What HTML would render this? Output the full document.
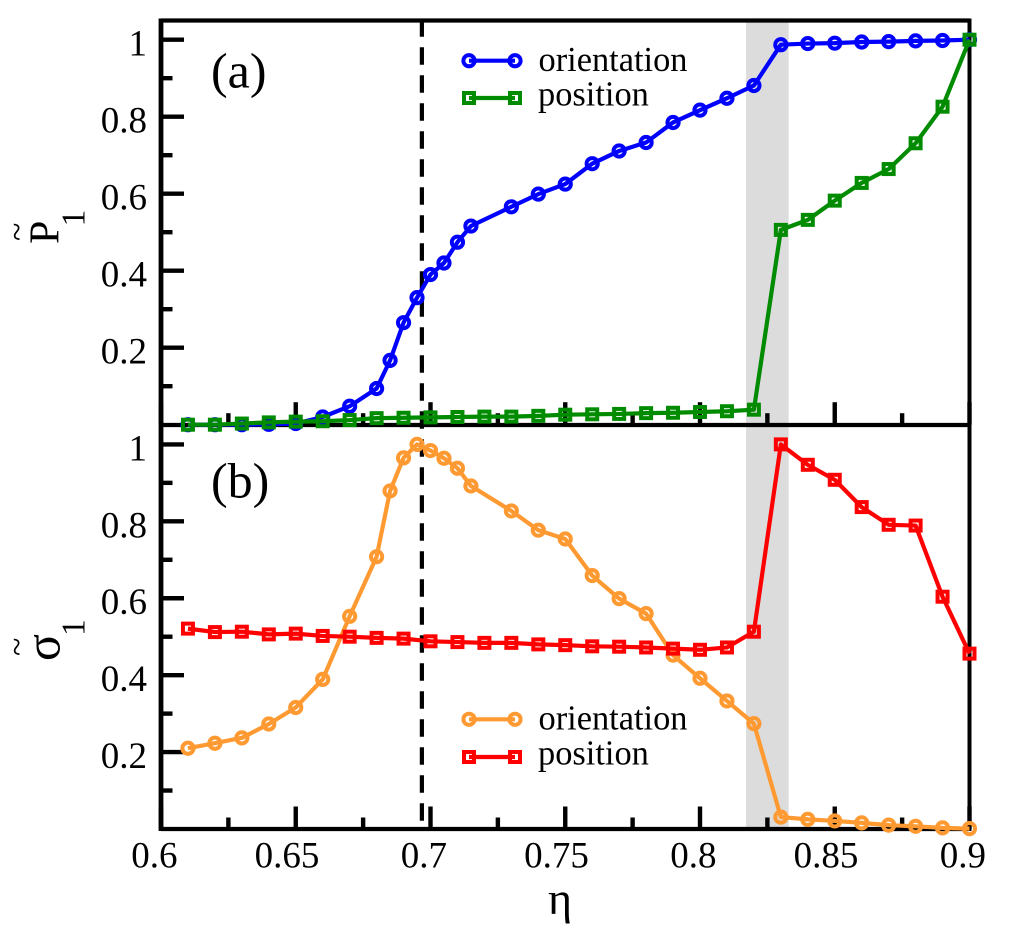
<!DOCTYPE html>
<html lang="en">
<head>
<meta charset="utf-8">
<title>Order parameters versus eta</title>
<style>
html,body{margin:0;padding:0;background:#fff;width:1011px;height:929px;overflow:hidden}
svg{display:block}
text{font-family:"Liberation Serif","DejaVu Serif",serif;fill:#000}
</style>
</head>
<body>
<svg id="chart" xmlns="http://www.w3.org/2000/svg" width="1011" height="929" viewBox="0 0 1011 929">
  <rect x="0" y="0" width="1011" height="929" fill="#fff"/>
  <g id="bands"></g>
  <g id="axes"></g>
  <g id="series"></g>
  <g>
    <line x1="469" y1="60.7" x2="515" y2="60.7" stroke="#0000ff" stroke-width="4.2"/>
    <circle cx="469" cy="60.7" r="5.6" fill="none" stroke="#0000ff" stroke-width="4"/>
    <circle cx="515" cy="60.7" r="5.6" fill="none" stroke="#0000ff" stroke-width="4"/>
    <text x="538.5" y="71" font-size="34.4">orientation</text>
    <line x1="469" y1="98" x2="515" y2="98" stroke="#008b00" stroke-width="4.2"/>
    <rect x="464" y="93" width="10" height="10" fill="none" stroke="#008b00" stroke-width="4"/>
    <rect x="510" y="93" width="10" height="10" fill="none" stroke="#008b00" stroke-width="4"/>
    <text x="538" y="105.3" font-size="34.4">position</text>
  </g>
  <g>
    <line x1="469" y1="719.3" x2="515" y2="719.3" stroke="#ff9a33" stroke-width="4.2"/>
    <circle cx="469" cy="719.3" r="5.6" fill="none" stroke="#ff9a33" stroke-width="4"/>
    <circle cx="515" cy="719.3" r="5.6" fill="none" stroke="#ff9a33" stroke-width="4"/>
    <text x="538.5" y="729.5" font-size="34.4">orientation</text>
    <line x1="469" y1="757" x2="515" y2="757" stroke="#ff0000" stroke-width="4.2"/>
    <rect x="464" y="752" width="10" height="10" fill="none" stroke="#ff0000" stroke-width="4"/>
    <rect x="510" y="752" width="10" height="10" fill="none" stroke="#ff0000" stroke-width="4"/>
    <text x="538" y="764.3" font-size="34.4">position</text>
  </g>
  <text x="211" y="87.5" font-size="50">(a)</text>
  <text x="211" y="497.7" font-size="50">(b)</text>
  <g>
    <text transform="translate(58.3 244) rotate(-90)" font-size="42">P</text>
    <text transform="translate(84.3 226.5) rotate(-90)" font-size="33.5">1</text>
    <text transform="translate(28 241) rotate(-90)" font-size="34">~</text>
  </g>
  <g>
    <text transform="translate(59.5 661) rotate(-90)" font-size="50">σ</text>
    <text transform="translate(84.3 636) rotate(-90)" font-size="33.5">1</text>
    <text transform="translate(28 656) rotate(-90)" font-size="34">~</text>
  </g>
  <text x="560" y="914" font-size="46" text-anchor="middle">η</text>
</svg>
<script>
var xOrientation = [0.61,0.62,0.63,0.64,0.65,0.66,0.67,0.68,0.685,0.69,0.695,0.7,0.705,0.71,0.715,0.73,0.74,0.75,0.76,0.77,0.78,0.79,0.8,0.81,0.82,0.83,0.84,0.85,0.86,0.87,0.88,0.89,0.9];
var xPosition = [0.61,0.62,0.63,0.64,0.65,0.66,0.67,0.68,0.69,0.7,0.71,0.72,0.73,0.74,0.75,0.76,0.77,0.78,0.79,0.8,0.81,0.82,0.83,0.84,0.85,0.86,0.87,0.88,0.89,0.9];
var pOrientation = [0,0,0,0.001,0.003,0.02,0.048,0.094,0.167,0.265,0.33,0.39,0.42,0.474,0.516,0.566,0.599,0.625,0.678,0.711,0.733,0.785,0.817,0.848,0.881,0.987,0.99,0.991,0.994,0.995,0.997,0.998,1];
var pPosition = [0,0,0.003,0.006,0.008,0.009,0.012,0.017,0.018,0.019,0.02,0.021,0.021,0.023,0.026,0.027,0.028,0.03,0.031,0.033,0.035,0.039,0.506,0.532,0.582,0.628,0.664,0.731,0.826,1];
var sigmaOrientation = [0.21,0.223,0.237,0.273,0.316,0.389,0.553,0.708,0.879,0.965,1,0.984,0.964,0.938,0.892,0.827,0.777,0.754,0.659,0.599,0.56,0.452,0.392,0.333,0.274,0.031,0.025,0.021,0.016,0.01,0.007,0.003,0.001];
var sigmaPosition = [0.521,0.512,0.513,0.506,0.508,0.502,0.5,0.497,0.495,0.488,0.486,0.484,0.484,0.48,0.478,0.475,0.474,0.472,0.469,0.466,0.472,0.513,1,0.947,0.908,0.837,0.791,0.789,0.604,0.456];
var xMajorTicks = [0.6,0.65,0.7,0.75,0.8,0.85,0.9];
var xMinorTicks = [0.625,0.675,0.725,0.775,0.825,0.875];
var xTickLabels = ["0.6","0.65","0.7","0.75","0.8","0.85","0.9"];
var yMajorTicks = [0.2,0.4,0.6,0.8,1];
var yMinorTicks = [0.1,0.3,0.5,0.7,0.9];
var yTickLabels = ["0.2","0.4","0.6","0.8","1"];
var transitionEta = 0.6968;
var bandRange = [0.8171,0.8329];

var NS = 'http://www.w3.org/2000/svg';
var X0 = 161, X1 = 969.5, Y_TOP = 20.5, Y_A0 = 424.7, Y_B0 = 829;
function xScale(v){ return X0 + (v - 0.6) / 0.3 * (X1 - X0); }
function yScaleA(v){ return Y_A0 - v * 385; }
function yScaleB(v){ return Y_B0 - v * 384.6; }
function make(tag, attrs, parent){
  var el = document.createElementNS(NS, tag);
  for (var k in attrs) el.setAttribute(k, attrs[k]);
  parent.appendChild(el);
  return el;
}
var bands = document.getElementById('bands');
var axes = document.getElementById('axes');
var seriesLayer = document.getElementById('series');

var band = make('rect', {x:xScale(bandRange[0]), y:Y_TOP, width:xScale(bandRange[1])-xScale(bandRange[0]), height:Y_B0-Y_TOP, fill:'#dcdcdc'}, bands);



function axisLine(x1, y1, x2, y2, w, name){
  var l = make('line', {x1:x1, y1:y1, x2:x2, y2:y2, stroke:'#000', 'stroke-width':w}, axes);
  
  
  return l;
}
var dash = axisLine(xScale(transitionEta), 19.3, xScale(transitionEta), Y_B0, 4.2, 'transition-dashed-line');
dash.setAttribute('stroke-dasharray', '17.5 10.5');

[yScaleA, yScaleB].forEach(function(ys){
  var y0 = ys(0);
  xMajorTicks.forEach(function(t){ axisLine(xScale(t), y0, xScale(t), y0 - 22.5, 4.4, 'x-major-tick'); });
  xMinorTicks.forEach(function(t){ axisLine(xScale(t), y0, xScale(t), y0 - 11.5, 4.4, 'x-minor-tick'); });
  yMajorTicks.forEach(function(t){ axisLine(X0, ys(t), X0 + 23, ys(t), 4.4, 'y-major-tick'); });
  yMinorTicks.forEach(function(t){ axisLine(X0, ys(t), X0 + 11.5, ys(t), 4.4, 'y-minor-tick'); });
  yTickLabels.forEach(function(s, i){
    var t = make('text', {x:147, y:ys(yMajorTicks[i]) + 16, 'font-size':37, 'text-anchor':'end'}, axes);
    t.textContent = s;
    
    
  });
});
xTickLabels.forEach(function(s, i){
  var t = make('text', {x:xScale(xMajorTicks[i]) + (s.length > 3 ? -8.8 : -6.6), y:867.7, 'font-size':37, 'text-anchor':'middle'}, axes);
  t.textContent = s;
  
  
});
axisLine(X0, Y_TOP - 2, X0, Y_B0 + 2, 4.8, 'left-axis');
axisLine(X1, Y_TOP - 2, X1, Y_B0 + 2, 4, 'right-axis');
axisLine(X0, Y_TOP, X1, Y_TOP, 4.2, 'top-axis');
axisLine(X0, 425, X1, 425, 4.2, 'panel-divider-axis');
axisLine(X0, Y_B0, X1, Y_B0, 4.2, 'bottom-axis');

function drawSeries(xs, vals, ys, color, marker, name){
  var g = make('g', {}, seriesLayer);
  
  
  var pts = xs.map(function(x, i){ return xScale(x).toFixed(2) + ',' + ys(vals[i]).toFixed(2); }).join(' ');
  make('polyline', {points:pts, fill:'none', stroke:color, 'stroke-width':4.2, 'stroke-linejoin':'round'}, g);
  xs.forEach(function(x, i){
    var cx = xScale(x), cy = ys(vals[i]), m;
    if (marker === 'circle') {
      m = make('circle', {cx:cx, cy:cy, r:5.6, fill:'none', stroke:color, 'stroke-width':4}, g);
    } else {
      m = make('rect', {x:cx - 5, y:cy - 5, width:10, height:10, fill:'none', stroke:color, 'stroke-width':4}, g);
    }
    
    
  });
}
drawSeries(xOrientation, pOrientation, yScaleA, '#0000ff', 'circle', 'p1-orientation-series');
drawSeries(xPosition, pPosition, yScaleA, '#008b00', 'square', 'p1-position-series');
drawSeries(xOrientation, sigmaOrientation, yScaleB, '#ff9a33', 'circle', 'sigma1-orientation-series');
drawSeries(xPosition, sigmaPosition, yScaleB, '#ff0000', 'square', 'sigma1-position-series');
</script>
</body>
</html>
